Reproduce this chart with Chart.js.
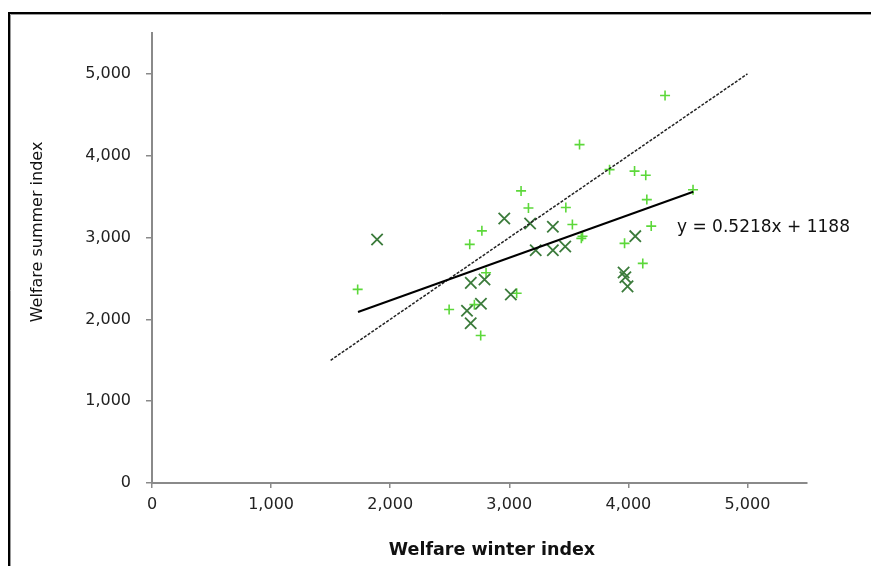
<!DOCTYPE html>
<html>
<head>
<meta charset="utf-8">
<script src="https://cdn.jsdelivr.net/npm/chart.js@4.4.1/dist/chart.umd.min.js"></script>
<style>
  html, body { margin: 0; padding: 0; background: #fff; }
  #wrap { width: 871px; height: 566px; position: relative; }
</style>
</head>
<body>
<div id="wrap"><canvas id="chart"></canvas></div>
<script>
'use strict';

// ---- data ----
const plusX = [1727, 2495, 2668, 2770, 2805, 2760, 2707, 3062, 3099, 3161, 3475, 3530,
               3590, 3605, 3615, 3842, 4052, 4146, 4155, 4192, 3968, 4121, 4308, 4543];
const plusY = [2366, 2120, 2917, 3082, 2569, 1803, 2180, 2320, 3570, 3362, 3368, 3160,
               4136, 2990, 3015, 3830, 3812, 3762, 3464, 3140, 2929, 2684, 4736, 3585];

const crossX = [1890, 2958, 3175, 3366, 3222, 3366, 3470, 2677, 2792, 2645, 2762, 2676,
                3013, 4058, 3960, 3975, 3993];
const crossY = [2977, 3233, 3172, 3132, 2845, 2845, 2890, 2446, 2488, 2105, 2190, 1952,
                2303, 3017, 2573, 2515, 2403];

const trendSlope = 0.5218;
const trendIntercept = 1188;
const trendRangeX = [1730, 4545];
const diagonalX = [1500, 5000];
const xTicks = [0, 1000, 2000, 3000, 4000, 5000];
const yTicks = [0, 1000, 2000, 3000, 4000, 5000];
const axisMax = 5500;

const xTitle = 'Welfare winter index';
const yTitle = 'Welfare summer index';
const equationText = 'y = 0.5218x + 1188';

// ---- helpers ----
const toPoints = (xs, ys) => xs.map((x, i) => ({ x, y: ys[i] }));
const fmt = v => Number(v).toLocaleString('en');
const keepTicks = list => scale => {
  scale.ticks = list.map(v => ({ value: v }));
};

const FONT = "'DejaVu Sans', sans-serif";

// frame, axis titles and equation label
const decorPlugin = {
  id: 'decor',
  afterDraw(chart) {
    const ctx = chart.ctx;
    ctx.save();
    // outer frame
    ctx.strokeStyle = '#000';
    ctx.lineWidth = 2;
    ctx.beginPath();
    ctx.moveTo(9, 580);
    ctx.lineTo(9, 13);
    ctx.lineTo(880, 13);
    ctx.stroke();
    ctx.strokeStyle = '#999';
    ctx.lineWidth = 1;
    ctx.beginPath();
    ctx.moveTo(10.5, 580);
    ctx.lineTo(10.5, 14.5);
    ctx.lineTo(880, 14.5);
    ctx.stroke();

    ctx.fillStyle = '#111';
    ctx.textAlign = 'center';
    ctx.textBaseline = 'middle';
    ctx.font = "bold 17.5px " + FONT;
    ctx.fillText(xTitle, 492, 550);

    ctx.translate(38, 232);
    ctx.rotate(-Math.PI / 2);
    ctx.font = "16px " + FONT;
    ctx.fillText(yTitle, 0, 0);
    ctx.restore();

    ctx.save();
    ctx.fillStyle = '#111';
    ctx.font = "17px " + FONT;
    ctx.textAlign = 'left';
    ctx.textBaseline = 'middle';
    ctx.fillText(equationText, 677, 228);
    ctx.restore();
  }
};

const tickFont = { family: FONT, size: 16 };

new Chart(document.getElementById('chart'), {
  type: 'scatter',
  data: {
    datasets: [
      {
        label: 'plus',
        data: toPoints(plusX, plusY),
        pointStyle: 'cross',
        pointRadius: 5,
        pointBorderWidth: 1.6,
        borderColor: '#5cd83a',
        backgroundColor: '#5cd83a',
        order: 3
      },
      {
        label: 'cross',
        data: toPoints(crossX, crossY),
        pointStyle: 'crossRot',
        pointRadius: 8,
        pointBorderWidth: 1.8,
        borderColor: '#3b7b3b',
        backgroundColor: '#3b7b3b',
        order: 2
      },
      {
        label: 'trend',
        data: trendRangeX.map(x => ({ x, y: trendSlope * x + trendIntercept })),
        showLine: true,
        pointRadius: 0,
        borderColor: '#000',
        borderWidth: 2,
        order: 1
      },
      {
        label: 'diagonal',
        data: diagonalX.map(x => ({ x, y: x })),
        showLine: true,
        pointRadius: 0,
        borderColor: '#222',
        borderWidth: 1.5,
        borderDash: [3, 1.5],
        order: 1
      }
    ]
  },
  options: {
    responsive: true,
    maintainAspectRatio: false,
    animation: false,
    layout: { padding: { left: 0, top: 33, right: 64, bottom: 0 } },
    plugins: {
      legend: { display: false },
      tooltip: { enabled: false }
    },
    scales: {
      x: {
        type: 'linear',
        min: 0,
        max: axisMax,
        afterBuildTicks: keepTicks(xTicks),
        afterFit: s => { s.height = 83; },
        border: { display: true, color: '#8a8a8a', width: 2 },
        grid: { drawOnChartArea: false, color: '#8a8a8a', tickLength: 5, lineWidth: 1.5 },
        ticks: { color: '#222', font: tickFont, padding: 7, callback: v => fmt(v), maxRotation: 0 }
      },
      y: {
        type: 'linear',
        min: 0,
        max: axisMax,
        afterBuildTicks: keepTicks(yTicks),
        afterFit: s => { s.width = 152; },
        border: { display: true, color: '#8a8a8a', width: 2 },
        grid: { drawOnChartArea: false, color: '#8a8a8a', tickLength: 6, lineWidth: 1.5 },
        ticks: { color: '#222', font: tickFont, padding: 15, callback: v => fmt(v) }
      }
    }
  },
  plugins: [decorPlugin]
});
</script>
</body>
</html>
